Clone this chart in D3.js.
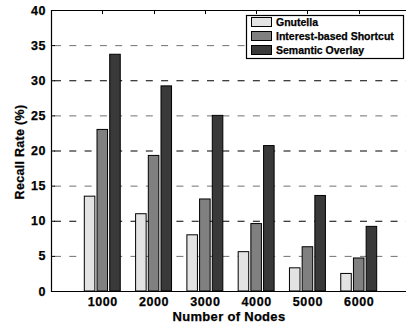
<!DOCTYPE html>
<html>
<head>
<meta charset="utf-8">
<script src="https://cdn.jsdelivr.net/npm/d3@7"></script>
<style>
  html, body { margin: 0; padding: 0; background: #fff; }
  svg { display: block; font-family: "Liberation Sans", Arial, Helvetica, sans-serif; font-weight: bold; }
  svg text { stroke: #000; stroke-width: 0.25px; }
</style>
</head>
<body>
<div id="chart"></div>
<script>
// 数据
var nodes = [1000, 2000, 3000, 4000, 5000, 6000];
var seriesNames = ["Gnutella", "Interest-based Shortcut", "Semantic Overlay"];
var gnutella = [13.5, 11.0, 8.0, 5.6, 3.3, 2.5];
var shortcut = [23.0, 19.3, 13.1, 9.6, 6.3, 4.7];
var semantic = [33.7, 29.2, 25.0, 20.7, 13.6, 9.2];
var yTicks = [0, 5, 10, 15, 20, 25, 30, 35, 40];
var gridValues = [5, 10, 15, 20, 25, 30, 35];
var seriesColors = ["#e3e3e3", "#808080", "#393939"];

var width = 406, height = 324,
  padding = { left: 51, right: -4, top: 10, bottom: 33 };

var svg = d3.select("#chart").append("svg")
  .attr("width", width)
  .attr("height", height);

//比例尺
var x = d3.scaleLinear()
  .domain([0, 7])
  .range([padding.left, width - padding.right]);

var y = d3.scaleLinear()
  .domain([0, 40])
  .range([height - padding.bottom, padding.top]);

var xs = d3.scaleBand()
  .domain(seriesNames)
  .range([-17.97, 17.97])
  .paddingInner(0.17)
  .paddingOuter(0);

var color = d3.scaleOrdinal()
  .domain(seriesNames)
  .range(seriesColors);

//网格线
svg.selectAll(".grid")
  .data(gridValues)
  .enter()
  .append("line")
  .attr("class", "grid")
  .attr("x1", x(0))
  .attr("x2", width)
  .attr("y1", function(d) { return y(d) + 0.5; })
  .attr("y2", function(d) { return y(d) + 0.5; })
  .attr("stroke", function(d) { return d % 10 === 0 ? "#000" : "#707070"; })
  .attr("stroke-width", 1)
  .attr("stroke-dasharray", "7,8.3")
  .attr("stroke-dashoffset", -3);

//柱子
var rows = [];
nodes.forEach(function(n, i) {
  rows.push({ i: i, s: seriesNames[0], v: gnutella[i] });
  rows.push({ i: i, s: seriesNames[1], v: shortcut[i] });
  rows.push({ i: i, s: seriesNames[2], v: semantic[i] });
});

svg.selectAll(".bar")
  .data(rows)
  .enter()
  .append("rect")
  .attr("class", "bar")
  .attr("x", function(d) { return x(d.i + 1) + xs(d.s); })
  .attr("y", function(d) { return y(d.v); })
  .attr("width", xs.bandwidth())
  .attr("height", function(d) { return y(0) - y(d.v); })
  .attr("fill", function(d) { return color(d.s); })
  .attr("stroke", "#000")
  .attr("stroke-width", 1);

//坐标轴
var xAxis = d3.axisBottom(x)
  .tickValues(d3.range(1, nodes.length + 1))
  .tickFormat(function(d) { return nodes[d - 1]; })
  .tickSize(0)
  .tickPadding(6);

var gx = svg.append("g")
  .attr("transform", "translate(0," + y(0) + ")")
  .call(xAxis);
gx.select(".domain").remove();
gx.selectAll("text")
  .attr("font-size", 12.5)
  .attr("letter-spacing", 0.6)
  .attr("font-family", null)
  .attr("fill", "#000");

var yAxis = d3.axisLeft(y)
  .tickValues(yTicks)
  .tickSize(0)
  .tickPadding(5);

var gy = svg.append("g")
  .attr("transform", "translate(" + x(0) + ",0)")
  .call(yAxis);
gy.select(".domain").remove();
gy.selectAll("text")
  .attr("font-size", 12.5)
  .attr("letter-spacing", 0.6)
  .attr("font-family", null)
  .attr("fill", "#000");

//刻度线 (向内)
svg.selectAll(".ytick")
  .data(yTicks)
  .enter()
  .append("line")
  .attr("x1", x(0))
  .attr("x2", x(0) + 4)
  .attr("y1", function(d) { return y(d) + 0.5; })
  .attr("y2", function(d) { return y(d) + 0.5; })
  .attr("stroke", "#000");

svg.selectAll(".xtick")
  .data(d3.range(1, nodes.length + 1))
  .enter()
  .append("line")
  .attr("x1", function(d) { return Math.round(x(d)) + 0.5; })
  .attr("x2", function(d) { return Math.round(x(d)) + 0.5; })
  .attr("y1", y(40))
  .attr("y2", y(40) + 4)
  .attr("stroke", "#000");

//边框
svg.append("path")
  .attr("d", "M" + width + "," + (y(40) + 0.5) + "H" + (x(0) + 0.5) + "V" + (y(0) + 0.5) + "H" + width)
  .attr("fill", "none")
  .attr("stroke", "#000")
  .attr("stroke-width", 1.2);

//轴标题
svg.append("text")
  .attr("x", 229)
  .attr("y", 321)
  .attr("text-anchor", "middle")
  .attr("font-size", 13)
  .attr("letter-spacing", 0.3)
  .text("Number of Nodes");

svg.append("text")
  .attr("transform", "translate(24,152) rotate(-90)")
  .attr("text-anchor", "middle")
  .attr("font-size", 12.5)
  .attr("letter-spacing", 0.3)
  .text("Recall Rate (%)");

//图例
var legend = svg.append("g").attr("class", "legend");
legend.append("rect")
  .attr("x", 246.5)
  .attr("y", 15.5)
  .attr("width", 157)
  .attr("height", 43)
  .attr("fill", "#fff")
  .attr("stroke", "#000")
  .attr("stroke-width", 1.2);

var items = legend.selectAll(".item")
  .data(seriesNames)
  .enter()
  .append("g")
  .attr("transform", function(d, i) { return "translate(251," + (22 + i * 14) + ")"; });

items.append("rect")
  .attr("x", 0.5)
  .attr("y", -4.5)
  .attr("width", 20)
  .attr("height", 9)
  .attr("fill", function(d) { return color(d); })
  .attr("stroke", "#000");

items.append("text")
  .attr("x", 25)
  .attr("y", 4)
  .attr("font-size", 10.5)
  .text(function(d) { return d; });
</script>
</body>
</html>
